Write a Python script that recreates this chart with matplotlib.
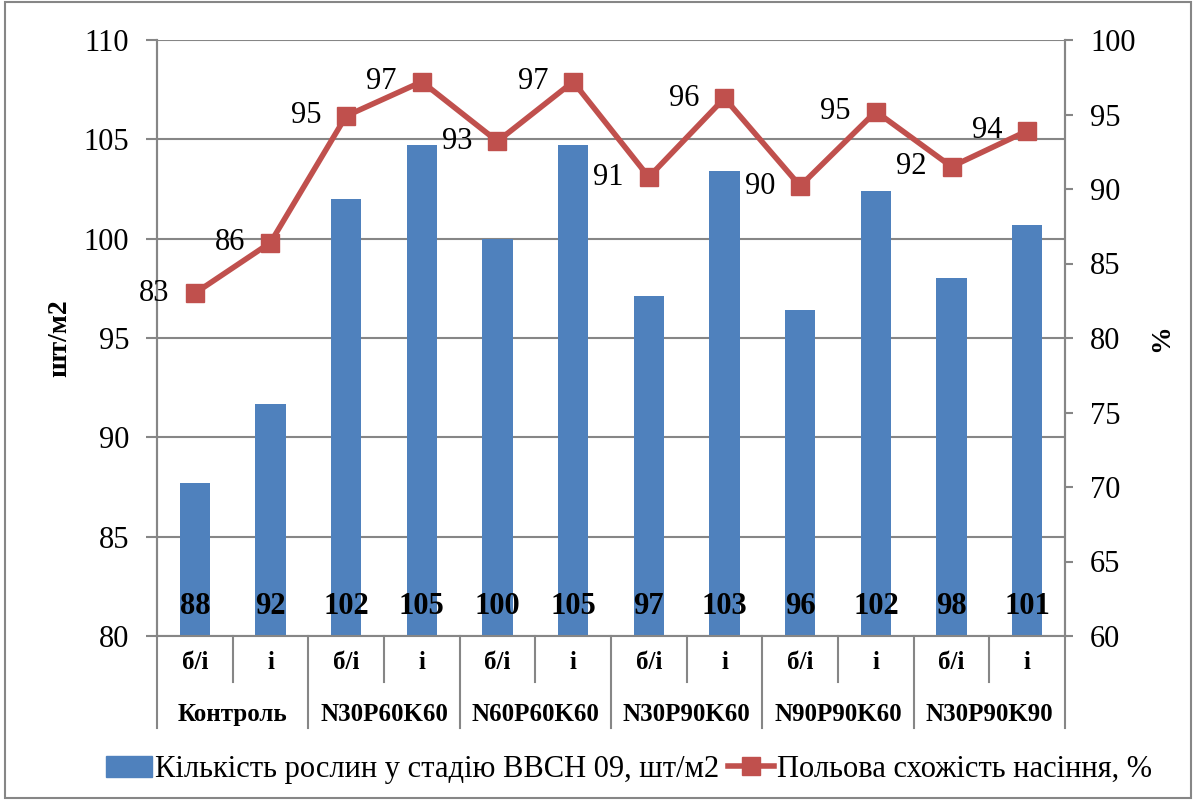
import matplotlib.pyplot as plt
from matplotlib.patches import Rectangle
from matplotlib.lines import Line2D
from matplotlib.patches import Patch

plt.rcParams["font.family"] = ["Liberation Serif", "DejaVu Serif"]

# дані
groups = ['Контроль', 'N30P60K60', 'N60P60K60', 'N30P90K60', 'N90P90K60', 'N30P90K90']
sub_labels = ['б/і', 'і'] * 6
plants = [87.7, 91.7, 102.0, 104.7, 100.0, 104.7, 97.1, 103.4, 96.4, 102.4, 98.0, 100.7]
plant_labels = [88, 92, 102, 105, 100, 105, 97, 103, 96, 102, 98, 101]
germination = [83.0, 86.4, 94.9, 97.2, 93.2, 97.2, 90.8, 96.1, 90.2, 95.2, 91.5, 93.9]
germ_labels = [83, 86, 95, 97, 93, 97, 91, 96, 90, 95, 92, 94]

bar_color = '#4F81BD'
line_color = '#C0504D'
grid_color = '#868686'

fig = plt.figure(figsize=(11.98, 8), dpi=100)
ax = fig.add_axes([0.131, 0.205, 0.758, 0.745])
ax2 = ax.twinx()

x = list(range(len(plants)))
ax.bar(x, [p - 80 for p in plants], bottom=80, width=0.4, color=bar_color, zorder=2)
ax.set_xlim(-0.5, len(plants) - 0.5)
ax.set_ylim(80, 110)
ax.set_yticks(range(80, 111, 5))
ax.yaxis.grid(True, color=grid_color, linewidth=1.5, zorder=0)
ax.set_axisbelow(True)
ax.tick_params(axis='y', labelsize=22, length=8, width=1.5, color=grid_color, pad=12)
ax.set_xticks([])

# підписи стовпців
for xi, v in zip(x, plant_labels):
    ax.annotate(str(v), (xi, 80), xytext=(0, 29), textcoords='offset pixels',
                ha='center', va='center', fontsize=22, fontweight='bold', zorder=5)

ax2.plot(x, germination, color=line_color, linewidth=4, marker='s', markersize=13,
         zorder=4)
ax2.set_ylim(60, 100)
ax2.set_yticks(range(60, 101, 5))
ax2.tick_params(axis='y', labelsize=22, length=6, width=1.5, color=grid_color, pad=12)
for xi, v, lab in zip(x, germination, germ_labels):
    ax2.annotate(str(lab), (xi, v), xytext=(-25, 0), textcoords='offset pixels',
                 ha='right', va='center', fontsize=22)

for a in (ax, ax2):
    for s in a.spines.values():
        s.set_color(grid_color)
        s.set_linewidth(1.5)
    a.spines['top'].set_visible(False)
    a.spines['bottom'].set_visible(False)

ax.set_ylabel('шт/м2', fontsize=20, fontweight='bold', labelpad=8)
ax2.set_ylabel('%', fontsize=20, fontweight='bold', labelpad=10)

# дворівнева вісь категорій
tr = ax.get_xaxis_transform()
ax.plot([-0.5, len(plants) - 0.5], [0, 0], transform=tr, color=grid_color,
        linewidth=1.5, clip_on=False, zorder=3)
for i, lab in enumerate(sub_labels):
    ax.text(i, -0.044, lab, transform=tr, ha='center', va='center',
            fontsize=18, fontweight='bold')
for i in range(len(plants) + 1):
    bottom = -0.154 if i % 2 == 0 else -0.077
    ax.plot([i - 0.5, i - 0.5], [0, bottom], transform=tr, color=grid_color,
            linewidth=1.5, clip_on=False)
for g, name in enumerate(groups):
    ax.text(2 * g + 0.5, -0.131, name, transform=tr, ha='center', va='center',
            fontsize=18, fontweight='bold')

handles = [Patch(color=bar_color),
           Line2D([], [], color=line_color, linewidth=4, marker='s', markersize=13)]
fig.legend(handles, ['Кількість рослин у стадію BBCH 09, шт/м2',
                     'Польова схожість насіння, %'],
           loc='center', bbox_to_anchor=(0.525, 0.038), ncol=2, frameon=False,
           fontsize=22, handlelength=1.5, handletextpad=0.1, columnspacing=0.3)

fig.patches.append(Rectangle((0.004, 0.003), 0.99, 0.994, transform=fig.transFigure,
                             fill=False, edgecolor=grid_color, linewidth=1.5))

fig.savefig('out.png', dpi=100)
